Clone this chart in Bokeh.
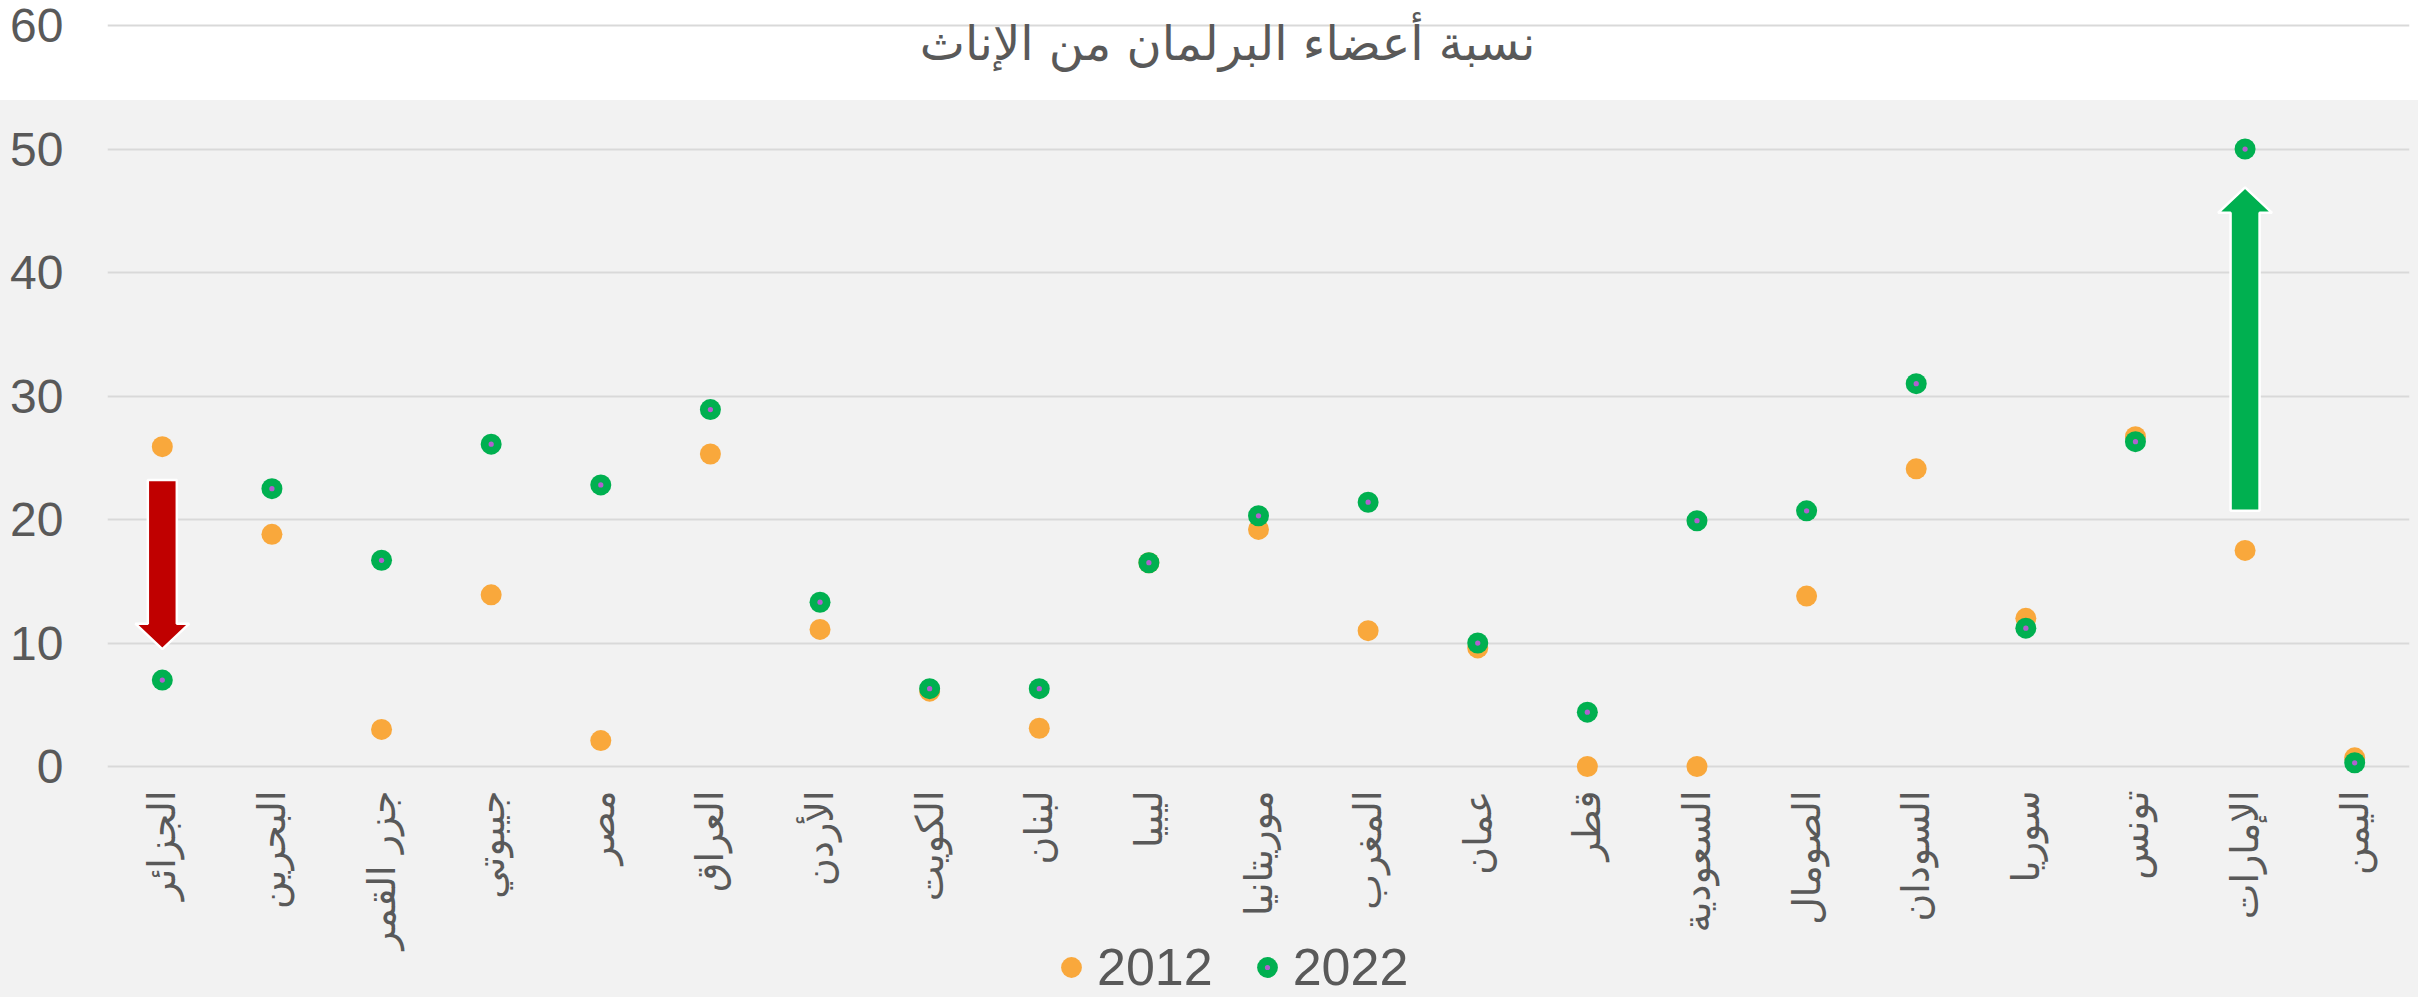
import math
from bokeh.plotting import figure
from bokeh.models import (Range1d, FixedTicker, Label, Legend, LegendItem,
                          ColumnDataSource)
from bokeh.embed import file_html
from bokeh.resources import INLINE

# ---------------- data ----------------
countries = ["الجزائر", "البحرين", "جزر القمر", "جيبوتي", "مصر", "العراق", "الأردن",
             "الكويت", "لبنان", "ليبيا", "موريتانيا", "المغرب", "عمان", "قطر",
             "السعودية", "الصومال", "السودان", "سوريا", "تونس", "الإمارات", "اليمن"]
v2012 = [25.9, 18.8, 3.0, 13.9, 2.1, 25.3, 11.1, 6.1, 3.1, 16.5, 19.2, 11.0,
         9.6, 0.0, 0.0, 13.8, 24.1, 12.0, 26.7, 17.5, 0.7]
v2022 = [7.0, 22.5, 16.7, 26.1, 22.8, 28.9, 13.3, 6.3, 6.3, 16.5, 20.3, 21.4,
         10.0, 4.4, 19.9, 20.7, 31.0, 11.2, 26.3, 50.0, 0.3]
series_labels = ["2012", "2022"]
y_ticks = [0, 10, 20, 30, 40, 50, 60]
title_text = "نسبة أعضاء البرلمان من الإناث"

# highlighted changes (arrows)
arrow_country = ["الجزائر", "الإمارات"]
arrow_start = [23.2, 20.7]
arrow_end = [9.5, 46.9]
arrow_color = ["#C00000", "#00B050"]

# ---------------- styles ----------------
TXT = "#595959"
GRID = "#D9D9D9"
BG = "#F2F2F2"
ORANGE = "#F9A83C"
GREEN = "#00B050"
PURPLE = "#B060D0"

W, H = 2418, 997
LEFT, RIGHT, TOP = 107, 9, 4
Y0_PX = 766                       # screen row of value 0
Y60_PX = 25                       # screen row of value 60
YMAX = 60
PX_Y = (Y0_PX - Y60_PX) / YMAX    # pixels per unit
FW = W - LEFT - RIGHT
n = len(countries)
y_start = -(H - Y0_PX) / PX_Y     # room below 0 for labels and legend
y_end = YMAX + (Y60_PX - TOP) / PX_Y

p = figure(width=W, height=H, output_backend="svg", toolbar_location=None,
           x_range=Range1d(-0.5, n - 0.5), y_range=Range1d(y_start, y_end),
           min_border_left=LEFT, min_border_right=RIGHT,
           min_border_top=TOP, min_border_bottom=0)
p.border_fill_color = None
p.background_fill_color = None
p.outline_line_color = None
p.styles = {"background": "linear-gradient(to bottom, #ffffff 0px, #ffffff 100px, %s 100px, %s 100%%)" % (BG, BG)}

# axes
p.xaxis.fixed_location = 0
p.xaxis.ticker = FixedTicker(ticks=list(range(n)))
p.xaxis.major_label_overrides = {i: c for i, c in enumerate(countries)}
p.xaxis.major_label_orientation = math.pi / 2
p.xaxis.major_label_text_font = "DejaVu Sans"
p.xaxis.major_label_text_font_size = "38px"
p.xaxis.major_label_text_color = TXT
p.xaxis.major_label_standoff = 24
p.xaxis.axis_line_color = None
p.xaxis.major_tick_line_color = None
p.xaxis.minor_tick_line_color = None
p.xaxis.major_tick_out = 0
p.xaxis.major_tick_in = 0

p.yaxis.ticker = FixedTicker(ticks=y_ticks)
p.yaxis.major_label_text_font = "Liberation Sans"
p.yaxis.major_label_text_font_size = "48px"
p.yaxis.major_label_text_color = TXT
p.yaxis.major_label_standoff = 44
p.yaxis.axis_line_color = None
p.yaxis.major_tick_line_color = None
p.yaxis.minor_tick_line_color = None
p.yaxis.major_tick_out = 0
p.yaxis.major_tick_in = 0

p.xgrid.grid_line_color = None
p.ygrid.grid_line_color = GRID
p.ygrid.grid_line_width = 2

# arrows (polygons built from the values above)
px_x = FW / n
hw = 14.5 / px_x
hh = 27.0 / px_x
hl = 25.5 / PX_Y
xs, ys = [], []
for c, s, e in zip(arrow_country, arrow_start, arrow_end):
    i = countries.index(c)
    d = 1 if e > s else -1
    b = e - d * hl
    xs.append([i - hw, i - hw, i - hh, i, i + hh, i + hw, i + hw])
    ys.append([s, b, b, e, b, b, s])
p.patches(xs=xs, ys=ys, fill_color=arrow_color, line_color="white", line_width=2.5)

# points
src = ColumnDataSource(dict(x=list(range(n)), a=v2012, b=v2022))
r1 = p.scatter("x", "a", source=src, size=21, marker="circle",
               fill_color=ORANGE, line_color=None)
r2 = p.scatter("x", "b", source=src, size=21, marker="circle_dot",
               fill_color=GREEN, line_color=PURPLE, line_width=0)

# title
p.add_layout(Label(x=1227 - LEFT, y=H - 42, x_units="screen", y_units="screen",
                   text=title_text, text_align="center", text_baseline="alphabetic",
                   text_font="DejaVu Sans", text_font_size="48px",
                   text_color=TXT))

# legend
legend = Legend(items=[LegendItem(label=series_labels[0], renderers=[r1]),
                       LegendItem(label=series_labels[1], renderers=[r2])],
                orientation="horizontal", location=(1045 - LEFT, 0),
                glyph_width=52, glyph_height=52, label_height=52,
                label_standoff=0, spacing=28, padding=0, margin=0,
                label_text_font="Liberation Sans", label_text_font_size="52px",
                label_text_color=TXT, background_fill_alpha=0,
                border_line_color=None)
p.add_layout(legend, "center")

open("out.html", "w").write(file_html(p, INLINE))
